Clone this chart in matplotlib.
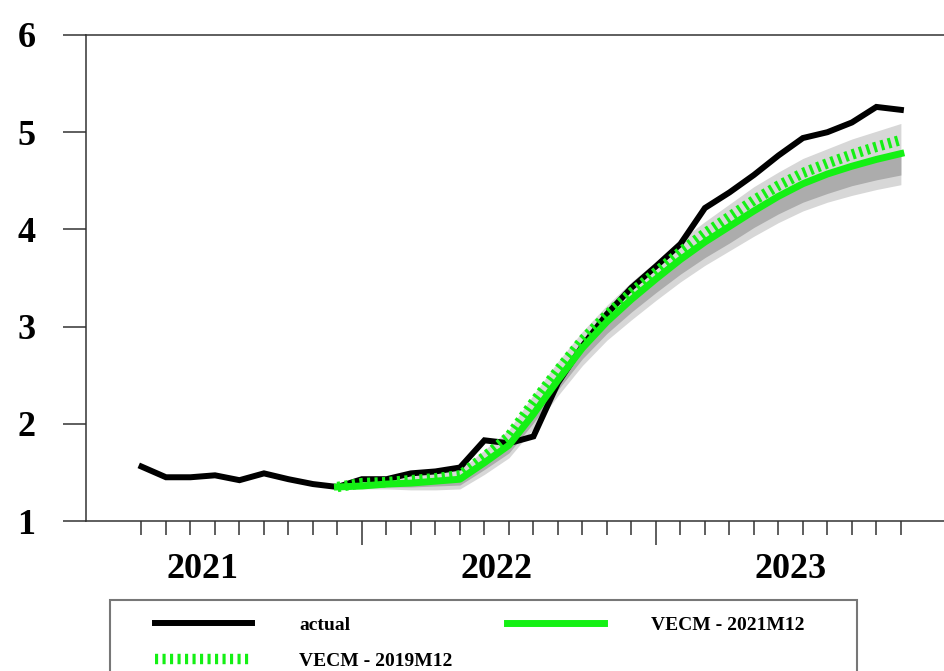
import matplotlib
matplotlib.use("Agg")
import matplotlib.pyplot as plt
from matplotlib.patches import Rectangle
import numpy as np

plt.rcParams['font.family'] = ['Liberation Serif', 'DejaVu Serif']
plt.rcParams['font.weight'] = 'bold'

# monthly index: 0 = 2021M04 ... 31 = 2023M11
months = np.arange(32)
actual = [1.56, 1.45, 1.45, 1.47, 1.42, 1.49, 1.43, 1.38, 1.35, 1.43, 1.43, 1.49,
          1.51, 1.55, 1.83, 1.80, 1.87, 2.42, 2.80, 3.13, 3.40, 3.62, 3.85, 4.22,
          4.38, 4.56, 4.76, 4.94, 5.00, 5.10, 5.26, 5.23]

# forecasts start 2021M12 (index 8)
fc_months = months[8:]
vecm_2021 = [1.35, 1.36, 1.38, 1.39, 1.41, 1.43, 1.60, 1.78, 2.10, 2.45, 2.78, 3.05,
             3.28, 3.49, 3.69, 3.87, 4.03, 4.19, 4.34, 4.47, 4.57, 4.65, 4.72, 4.78]
vecm_2019 = [1.35, 1.39, 1.40, 1.42, 1.44, 1.47, 1.66, 1.87, 2.22, 2.55, 2.86, 3.12,
             3.35, 3.56, 3.77, 3.96, 4.13, 4.30, 4.45, 4.58, 4.68, 4.77, 4.85, 4.92]
band_outer_lo = [1.35, 1.33, 1.33, 1.32, 1.32, 1.33, 1.48, 1.65, 1.95, 2.29, 2.60, 2.86,
                 3.07, 3.27, 3.46, 3.63, 3.78, 3.93, 4.07, 4.19, 4.28, 4.35, 4.41, 4.46]
band_outer_hi = [1.35, 1.41, 1.43, 1.46, 1.49, 1.53, 1.73, 1.94, 2.30, 2.64, 2.95, 3.22,
                 3.46, 3.67, 3.89, 4.08, 4.26, 4.44, 4.59, 4.73, 4.83, 4.93, 5.01, 5.09]
band_inner_lo = [1.35, 1.34, 1.35, 1.35, 1.36, 1.37, 1.53, 1.70, 2.01, 2.35, 2.67, 2.93,
                 3.15, 3.35, 3.54, 3.71, 3.86, 4.02, 4.16, 4.28, 4.37, 4.45, 4.51, 4.56]

year_labels = ['2021', '2022', '2023']
year_centers = [2.5, 14.5, 26.5]
major_months = [9, 21]

fig = plt.figure(figsize=(9.44, 6.71), dpi=100)
ax = fig.add_axes([86/944, 1-521/671, 1-86/944, (521-35)/671])

green = '#14f014'
ax.fill_between(fc_months, band_outer_lo, band_outer_hi, color='#d7d7d7', lw=0)
ax.fill_between(fc_months, band_inner_lo, vecm_2021, color='#acacac', lw=0)
l_act, = ax.plot(months, actual, color='black', lw=4.3, solid_joinstyle='miter',
                 label='actual')
l_21, = ax.plot(fc_months, vecm_2021, color=green, lw=5, label='VECM - 2021M12')
l_19, = ax.plot(fc_months, vecm_2019, color=green, lw=7.5, dashes=(0.3, 0.42),
                dash_capstyle='butt', label='VECM - 2019M12')

ax.set_xlim(-2.265, 32.76)
ax.set_ylim(1, 6)
ax.set_yticks([1, 2, 3, 4, 5, 6])
ax.tick_params(axis='y', length=16.5, width=1.1, color='#333333', pad=20,
               labelsize=26)
ax.set_xticks(major_months)
ax.set_xticklabels([])
ax.set_xticks([m for m in months if m not in major_months], minor=True)
ax.tick_params(axis='x', which='major', length=17, width=1.1, color='#333333')
ax.tick_params(axis='x', which='minor', length=10, width=1.1, color='#333333')
for lab in ax.get_yticklabels():
    lab.set_fontweight('bold')
for s in ['left', 'top', 'bottom']:
    ax.spines[s].set_linewidth(1.1)
    ax.spines[s].set_color('#333333')
ax.spines['right'].set_visible(False)

for lbl, xc in zip(year_labels, year_centers):
    ax.text(xc, -0.1, lbl, transform=ax.get_xaxis_transform(), ha='center',
            va='center', fontsize=26, fontweight='bold')

# legend box
fig.patches.append(Rectangle((110/944, -0.05), (857-110)/944, 0.05 + 1-600/671,
                             transform=fig.transFigure, fill=False,
                             edgecolor='#777777', lw=1.5))
fig.legend(handles=[l_act, l_19, l_21], ncol=2, loc='upper left',
           bbox_to_anchor=(155/944, 1-616/671), frameon=False, borderpad=0,
           borderaxespad=0, handlelength=5.0, handletextpad=2.4,
           columnspacing=2.8, labelspacing=0.95,
           prop={'family': 'Liberation Serif', 'weight': 'bold', 'size': 14})

fig.savefig('out.png', dpi=100)
